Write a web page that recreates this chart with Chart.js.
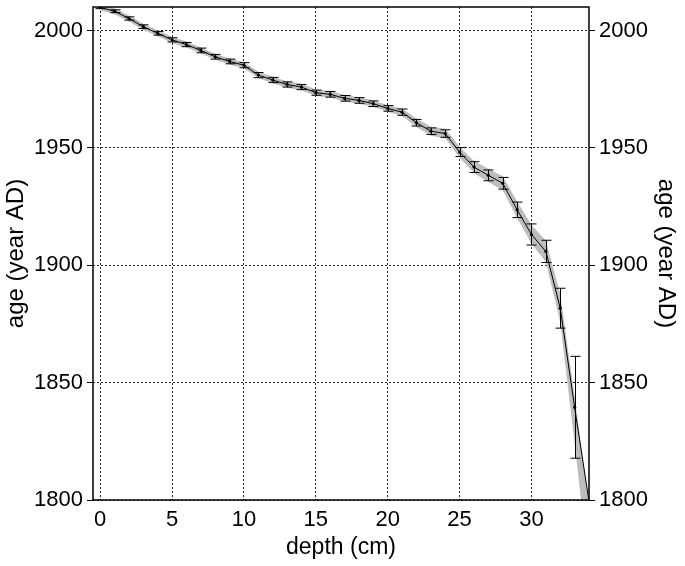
<!DOCTYPE html>
<html>
<head>
<meta charset="utf-8">
<title>Age-depth model</title>
<script src="https://cdn.jsdelivr.net/npm/chart.js@4"></script>
<style>
  html, body { margin: 0; padding: 0; background: #fff; }
  #chart { display: block; }
</style>
</head>
<body>
<canvas id="chart" width="685" height="566"></canvas>
<script>
// Age-depth data
const depths = [0, 1, 2, 3, 4, 5, 6, 7, 8, 9, 10, 11, 12, 13, 14, 15, 16, 17, 18, 19, 20,
  21, 22, 23, 24, 25, 26, 27, 28, 29, 30, 31, 32, 33, 34];
const ages = [2009.8, 2008.2, 2005.1, 2001.6, 1998.8, 1996.0, 1994.0, 1991.5, 1988.8, 1986.8,
  1985.2, 1981.0, 1978.9, 1977.0, 1975.9, 1973.5, 1972.8, 1971.1, 1970.2, 1968.8, 1966.8,
  1965.2, 1960.7, 1957.1, 1956.1, 1948.2, 1941.8, 1938.3, 1934.9, 1923.6, 1913.1, 1905.9,
  1881.7, 1839.5, 1799.5];
// half length of the error bars (years), none at the last depth
const ageErrors = [0.5, 0.6, 0.7, 0.8, 0.8, 0.9, 0.9, 1.0, 1.0, 1.0, 1.1, 1.1, 1.1, 1.1, 1.1,
  1.1, 1.2, 1.2, 1.2, 1.2, 1.2, 1.35, 1.4, 1.4, 1.6, 1.9, 2.3, 2.3, 2.5, 3.3, 4.5, 4.75,
  8.5, 21.7, null];
// grey uncertainty envelope
const bandHigh = [2011.1, 2009.5, 2006.4, 2002.9, 2000.1, 1997.3, 1995.3, 1992.8, 1990.1, 1988.1,
  1986.5, 1982.4, 1980.3, 1978.4, 1977.3, 1974.9, 1974.2, 1972.5, 1971.6, 1970.2, 1968.2,
  1966.8, 1962.5, 1959.0, 1958.1, 1950.5, 1944.4, 1941.1, 1937.9, 1927.1, 1917.1, 1910.4,
  1887.7, 1844.0, 1798.0];
const bandLow = [2008.5, 2006.9, 2003.8, 2000.3, 1997.5, 1994.7, 1992.7, 1990.2, 1987.5, 1985.5,
  1983.9, 1979.6, 1977.5, 1975.6, 1974.5, 1972.1, 1971.4, 1969.7, 1968.8, 1967.4, 1965.4,
  1963.6, 1958.9, 1955.2, 1954.1, 1945.9, 1939.2, 1935.5, 1931.9, 1920.1, 1909.1, 1901.4,
  1875.7, 1824.0, 1770.0];

const xTicks = [0, 5, 10, 15, 20, 25, 30];
const yTicks = [1800, 1850, 1900, 1950, 2000];
const xRange = [-0.5, 34];
const yRange = [1800, 2010];

const FONT = 'Liberation Sans, Arial, Helvetica, sans-serif';

function toPoints(values) {
  return depths.map((d, i) => ({ x: d, y: values[i] }));
}

// Error bars + frame drawn through the chart's own scales
const errorBarPlugin = {
  id: 'errorBars',
  afterDatasetsDraw(chart) {
    const { ctx, chartArea, scales } = chart;
    const x = scales.x;
    const y = scales.y;
    ctx.save();
    ctx.beginPath();
    ctx.rect(chartArea.left, chartArea.top, chartArea.right - chartArea.left, chartArea.bottom - chartArea.top);
    ctx.clip();
    ctx.strokeStyle = '#000';
    ctx.lineWidth = 1;
    const cap = 5;
    depths.forEach((d, i) => {
      const err = ageErrors[i];
      if (err == null) return;
      const px = Math.round(x.getPixelForValue(d)) + 0.5;
      const top = y.getPixelForValue(ages[i] + err);
      const bottom = y.getPixelForValue(ages[i] - err);
      ctx.beginPath();
      ctx.moveTo(px, top);
      ctx.lineTo(px, bottom);
      ctx.moveTo(px - cap, top);
      ctx.lineTo(px + cap, top);
      ctx.moveTo(px - cap, bottom);
      ctx.lineTo(px + cap, bottom);
      ctx.stroke();
    });
    ctx.restore();
  },
  afterDraw(chart) {
    const { ctx, chartArea } = chart;
    ctx.save();
    ctx.strokeStyle = '#000';
    ctx.lineWidth = 1.5;
    ctx.strokeRect(chartArea.left, chartArea.top, chartArea.right - chartArea.left, chartArea.bottom - chartArea.top);
    ctx.restore();
  }
};

function yAxis(position, width, titlePad) {
  return {
    type: 'linear',
    position: position,
    min: yRange[0],
    max: yRange[1],
    afterBuildTicks: (scale) => { scale.ticks = yTicks.map(v => ({ value: v })); },
    afterFit: (scale) => {
      scale.width = width;
      scale.paddingTop = 0;
      scale.paddingBottom = 0;
    },
    grid: {
      drawOnChartArea: position === 'left',
      color: '#222',
      lineWidth: 1,
      tickLength: 6,
      tickBorderDash: [],
      tickColor: '#000'
    },
    border: { display: false, dash: [2, 2] },
    ticks: {
      color: '#000',
      padding: 4,
      callback: (v) => String(v),
      font: { family: FONT, size: 22 }
    },
    title: {
      display: true,
      text: 'age (year AD)',
      color: '#000',
      padding: titlePad,
      font: { family: FONT, size: 24 }
    }
  };
}

const ctx = document.getElementById('chart').getContext('2d');
new Chart(ctx, {
  type: 'line',
  data: {
    datasets: [
      {
        label: 'age',
        data: toPoints(ages),
        borderColor: '#000',
        borderWidth: 1,
        pointRadius: 1.6,
        pointBackgroundColor: '#000',
        pointBorderWidth: 0,
        fill: false,
        order: 0
      },
      {
        label: 'upper',
        data: toPoints(bandHigh),
        borderWidth: 0,
        borderColor: 'rgba(0,0,0,0)',
        pointRadius: 0,
        fill: false,
        order: 2
      },
      {
        label: 'lower',
        data: toPoints(bandLow),
        borderWidth: 0,
        borderColor: 'rgba(0,0,0,0)',
        backgroundColor: '#bdbdbd',
        pointRadius: 0,
        fill: '-1',
        order: 1
      }
    ]
  },
  options: {
    responsive: false,
    animation: false,
    layout: { padding: { top: 7, left: 0, right: 0, bottom: 0 } },
    plugins: {
      legend: { display: false },
      tooltip: { enabled: false }
    },
    scales: {
      x: {
        type: 'linear',
        position: 'bottom',
        min: xRange[0],
        max: xRange[1],
        afterBuildTicks: (scale) => { scale.ticks = xTicks.map(v => ({ value: v })); },
        afterFit: (scale) => {
          scale.height = 66;
          scale.paddingLeft = 0;
          scale.paddingRight = 0;
        },
        grid: {
          color: '#222',
          lineWidth: 1,
          tickLength: 0
        },
        border: { display: false, dash: [2, 2] },
        ticks: {
          color: '#000',
          padding: 7,
          maxRotation: 0,
          callback: (v) => String(v),
          font: { family: FONT, size: 22 }
        },
        title: {
          display: true,
          text: 'depth (cm)',
          color: '#000',
          padding: { top: 0, bottom: 5 },
          font: { family: FONT, size: 23 }
        }
      },
      y: yAxis('left', 93, { top: 2, bottom: 0 }),
      y2: yAxis('right', 96, { top: 5, bottom: 0 })
    }
  },
  plugins: [errorBarPlugin]
});
</script>
</body>
</html>
